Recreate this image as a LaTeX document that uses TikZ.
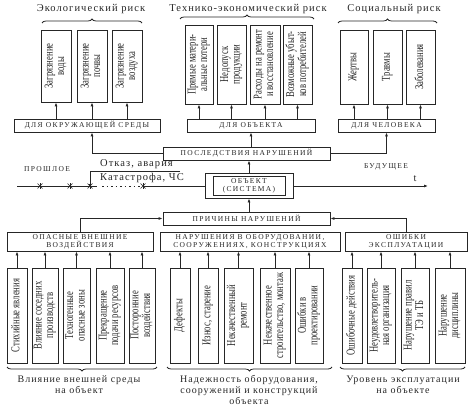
\documentclass[tikz,border=0pt]{standalone}
\usepackage{fontspec}
\usepackage{graphicx}
\setmainfont{Liberation Serif}
\newfontfamily\capsf[LetterSpace=18]{Liberation Serif}
\newfontfamily\headf[LetterSpace=10]{Liberation Serif}
\usetikzlibrary{arrows.meta,decorations.pathreplacing}
\newcommand{\vt}[1]{\rotatebox{90}{\scalebox{0.72}[1]{\fontsize{12}{11.5}\selectfont\begin{tabular}{@{}c@{}}#1\end{tabular}}}}
\tikzset{
  ln/.style={line width=0.8pt, draw=black!85},
  cbox/.style={ln, draw, inner sep=0pt, align=center, text=black!85,
     font=\capsf\fontsize{7.5}{8}\selectfont},
  vbox/.style={ln, draw, inner sep=0pt, text=black!85},
  arr/.style={ln, -{Latex[length=4pt,width=3pt]}},
  head/.style={text=black!85, font=\headf\fontsize{10.5}{12}\selectfont, align=center, inner sep=0pt},
  foot/.style={head, font=\headf\fontsize{10}{11}\selectfont},
  brc/.style={ln, decorate, decoration={brace, amplitude=4pt}},
  mk/.style={ln, line width=0.6pt}
}
\begin{document}
\begin{tikzpicture}[x=1pt,y=-1pt]
\useasboundingbox (0,0) rectangle (473,406);

% headings
\node[head] (h1) at (91,9) {Экологический риск};
\node[head] (h2) at (248,9) {Технико-экономический риск};
\node[head] (h3) at (394,9) {Социальный риск};

\draw[brc] (42,23) -- (142,23);
\draw[brc] (180,19) -- (314,19);
\draw[brc] (338,23) -- (437,23);

% top boxes
\node[vbox, minimum width=30, minimum height=72] (e1) at (56,66) {\vt{Загрязнение\\воды}};
\node[vbox, minimum width=30, minimum height=72] (e2) at (92,66) {\vt{Загрязнение\\почвы}};
\node[vbox, minimum width=30, minimum height=72] (e3) at (127,66) {\vt{Загрязнение\\воздуха}};

\node[vbox, minimum width=28, minimum height=79] (t1) at (199,64.5) {\vt{Прямые матери-\\альные потери}};
\node[vbox, minimum width=29, minimum height=79] (t2) at (231.5,64.5) {\vt{Недопуск\\продукции}};
\node[vbox, minimum width=30, minimum height=79] (t3) at (265,64.5) {\vt{Расходы на ремонт\\и восстановление}};
\node[vbox, minimum width=29, minimum height=79] (t4) at (297.5,64.5) {\vt{Возможные убыт-\\ков потребителей}};

\node[vbox, minimum width=28, minimum height=74] (s1) at (354,67) {\vt{Жертвы}};
\node[vbox, minimum width=29, minimum height=74] (s2) at (387.5,67) {\vt{Травмы}};
\node[vbox, minimum width=29, minimum height=74] (s3) at (420.5,67) {\vt{Заболевания}};

% "for" boxes
\node[cbox, minimum width=146, minimum height=13] (d1) at (87,125.5) {ДЛЯ ОКРУЖАЮЩЕЙ СРЕДЫ};
\node[cbox, minimum width=128, minimum height=13] (d2) at (251,125.5) {ДЛЯ ОБЪЕКТА};
\node[cbox, minimum width=97, minimum height=13] (d3) at (386.5,125.5) {ДЛЯ ЧЕЛОВЕКА};

\foreach \b in {e1,e2,e3} \draw[arr] (\b.south |- d1.north) -- (\b.south);
\foreach \b in {t1,t2,t3,t4} \draw[arr] (\b.south |- d2.north) -- (\b.south);
\foreach \b in {s1,s2,s3} \draw[arr] (\b.south |- d3.north) -- (\b.south);

% consequences
\node[cbox, minimum width=167, minimum height=13] (pos) at (246.5,153.5) {ПОСЛЕДСТВИЯ НАРУШЕНИЙ};
\coordinate (k1) at (92,0);
\draw[arr] (pos.west) -| (k1 |- d1.south);
\draw[arr] (pos.east) -| (d3.south);
\draw[arr] (pos.north -| d2.south) -- (d2.south);

% object
\node[ln, draw, minimum width=88, minimum height=25, inner sep=0pt] (obj) at (249,185.5) {};
\node[cbox, minimum width=72, minimum height=19] (obji) at (249,185.5) {ОБЪЕКТ\\(СИСТЕМА)};
\draw[arr] (obj.north) -- (pos.south -| obj.north);

% causes
\node[cbox, minimum width=167, minimum height=13] (pri) at (246.5,218.5) {ПРИЧИНЫ НАРУШЕНИЙ};
\draw[arr] (pri.north -| obj.south) -- (obj.south);

% timeline
\coordinate (tl0) at (17,186);
\coordinate (p1) at (40,186);
\coordinate (p2) at (70,186);
\coordinate (p3) at (90,186);
\coordinate (p4) at (143,186);
\coordinate (q1) at (97,186);
\coordinate (q2) at (102,186);
\coordinate (q3) at (140,186);
\coordinate (tend) at (428,186);
\draw[ln] (tl0) -- (q1);
\draw[ln, line width=1pt, dash pattern=on 1.5pt off 3pt] (q2) -- (q3);
\draw[ln] (p4) -- (obj.west |- p4);
\draw[arr] (obj.east |- tend) -- (tend);
\foreach \p in {p1,p2,p3,p4} {
  \draw[mk] ([shift={(-2.5,-2.5)}]\p) -- ([shift={(2.5,2.5)}]\p);
  \draw[mk] ([shift={(-2.5,2.5)}]\p) -- ([shift={(2.5,-2.5)}]\p);
  \draw[mk] ([shift={(0,-3)}]\p) -- ([shift={(0,3)}]\p);
}
\coordinate (ot) at (180,171);
\draw[arr] (ot) -| ([yshift=-2]p3);

\node[head, anchor=west] (tx1) at (100,164) {Отказ, авария};
\node[head, anchor=west] (tx2) at (100,177.5) {Катастрофа, ЧС};
\node[cbox, draw=none] (past) at (47,169) {ПРОШЛОЕ};
\node[cbox, draw=none] (fut) at (386,167) {БУДУЩЕЕ};
\node[head] (tt) at (415,179) {t};

% category boxes
\node[cbox, minimum width=146, minimum height=19] (c1) at (80,241.5) {ОПАСНЫЕ ВНЕШНИЕ\\ВОЗДЕЙСТВИЯ};
\node[cbox, minimum width=180, minimum height=19] (c2) at (250,241.5) {НАРУШЕНИЯ В ОБОРУДОВАНИИ,\\СООРУЖЕНИЯХ, КОНСТРУКЦИЯХ};
\node[cbox, minimum width=122, minimum height=19] (c3) at (406,241.5) {ОШИБКИ\\ЭКСПЛУАТАЦИИ};
\draw[arr] (c1.north) |- (pri.west);
\draw[arr] (c3.north) |- (pri.east);

% bottom boxes
\node[vbox, minimum width=20, minimum height=95] (b1) at (17,315.5) {\vt{Стихийные явления}};
\node[vbox, minimum width=26, minimum height=95] (b2) at (45,315.5) {\vt{Влияние соседних\\производств}};
\node[vbox, minimum width=27, minimum height=95] (b3) at (76.5,315.5) {\vt{Техногенные\\опасные зоны}};
\node[vbox, minimum width=28, minimum height=95] (b4) at (110,315.5) {\vt{Прекращение\\подачи ресурсов}};
\node[vbox, minimum width=26, minimum height=95] (b5) at (142,315.5) {\vt{Посторонние\\воздействия}};

\node[vbox, minimum width=20, minimum height=95] (m1) at (180,315.5) {\vt{Дефекты}};
\node[vbox, minimum width=20, minimum height=95] (m2) at (208,315.5) {\vt{Износ, старение}};
\node[vbox, minimum width=29, minimum height=95] (m3) at (238.5,315.5) {\vt{Некачественный\\ремонт}};
\node[vbox, minimum width=30, minimum height=95] (m4) at (275,315.5) {\vt{Некачественное\\строительство, монтаж}};
\node[vbox, minimum width=28, minimum height=95] (m5) at (309,315.5) {\vt{Ошибки в\\проектировании}};

\node[vbox, minimum width=20, minimum height=95] (r1) at (352,315.5) {\vt{Ошибочные действия}};
\node[vbox, minimum width=28, minimum height=95] (r2) at (381,315.5) {\vt{Неудовлетворитель-\\ная организация}};
\node[vbox, minimum width=28, minimum height=95] (r3) at (415,315.5) {\vt{Нарушение правил\\ТЭ и ТБ}};
\node[vbox, minimum width=30, minimum height=95] (r4) at (450,315.5) {\vt{Нарушение\\дисциплины}};

\foreach \b in {b1,b2,b3,b4,b5} \draw[arr] (\b.north) -- (\b.north |- c1.south);
\foreach \b in {m1,m2,m3,m4,m5} \draw[arr] (\b.north) -- (\b.north |- c2.south);
\foreach \b in {r1,r2,r3,r4} \draw[arr] (\b.north) -- (\b.north |- c3.south);

% bottom braces
\draw[brc] (157,367) -- (7,367);
\draw[brc] (332,367) -- (167,367);
\draw[brc] (465,367) -- (340,367);

\node[foot] (l1) at (79,385) {Влияние внешней среды\\на объект};
\node[foot] (l2) at (249,390) {Надежность оборудования,\\сооружений и конструкций\\объекта};
\node[foot] (l3) at (403,385) {Уровень эксплуатации\\на объекте};
\end{tikzpicture}
\end{document}
